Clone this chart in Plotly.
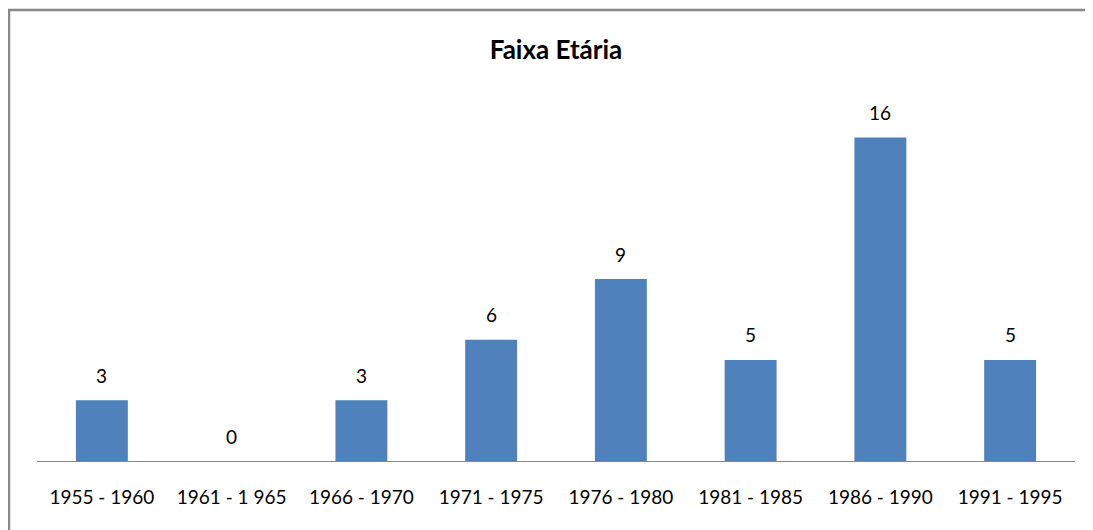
import plotly.graph_objects as go

categories = ["1955 - 1960", "1961 - 1 965", "1966 - 1970", "1971 - 1975",
              "1976 - 1980", "1981 - 1985", "1986 - 1990", "1991 - 1995"]
values = [3, 0, 3, 6, 9, 5, 16, 5]

# page body has an 8px margin, so figure coords = reference coords - 8
W, H = 1085, 522
L, R, T, B = 29, 18, 89, 69
FONT = "Lato, Liberation Sans, sans-serif"

fig = go.Figure(go.Bar(
    x=categories, y=values,
    marker=dict(color="#4F81BD", line=dict(width=0)),
    hoverinfo="x+y",
))

pw = W - L - R
ph = H - T - B

def px_to_paper_x(px):
    return (px - L) / pw

def px_to_paper_y(py):
    return (H - B - py) / ph

annotations = [
    dict(x=c, y=v, xref="x", yref="y", text=str(v), showarrow=False,
         yanchor="middle", yshift=25,
         font=dict(family=FONT, size=19, color="#000000"))
    for c, v in zip(categories, values)
]

fig.update_layout(
    width=W, height=H,
    margin=dict(l=L, r=R, t=T, b=B),
    paper_bgcolor="white", plot_bgcolor="white",
    bargap=0.6,
    showlegend=False,
    title=dict(text="<b>Faixa Etária</b>", x=px_to_paper_x(548), xref="paper",
               xanchor="center", y=1 - 42 / H, yanchor="middle",
               font=dict(family=FONT, size=26, color="#000000")),
    xaxis=dict(showline=True, linecolor="#868686", linewidth=1, ticks="",
               ticklabelstandoff=19,
               tickfont=dict(family=FONT, size=19, color="#000000"),
               showgrid=False, zeroline=False, fixedrange=True),
    yaxis=dict(range=[0, 18], visible=False, showgrid=False, zeroline=False),
    annotations=annotations,
    shapes=[
        dict(type="line", xref="paper", yref="paper",
             x0=px_to_paper_x(1), x1=px_to_paper_x(1),
             y0=px_to_paper_y(2), y1=px_to_paper_y(540),
             line=dict(color="#888888", width=2.5)),
        dict(type="line", xref="paper", yref="paper",
             x0=px_to_paper_x(0), x1=px_to_paper_x(1100),
             y0=px_to_paper_y(2), y1=px_to_paper_y(2),
             line=dict(color="#888888", width=2.5)),
    ],
)

fig.write_html("out.html")
